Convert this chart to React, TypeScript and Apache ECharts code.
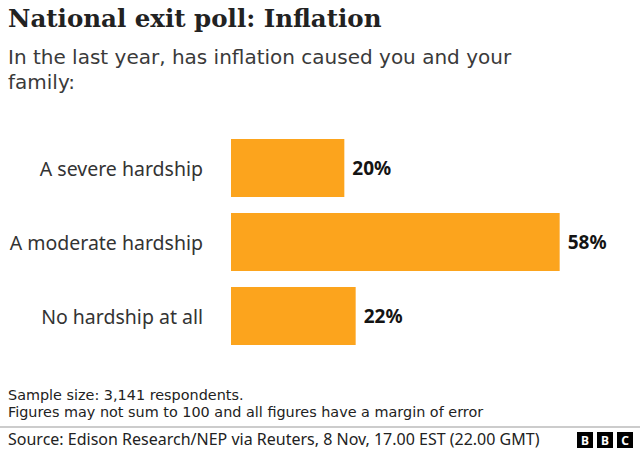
import React, { useEffect, useRef } from "react";
import * as echarts from "echarts";

const categories = ["A severe hardship", "A moderate hardship", "No hardship at all"];
const values = [20, 58, 22];
const title = "National exit poll: Inflation";
const subtitleLines = ["In the last year, has inflation caused you and your", "family:"];
const notes = ["Sample size: 3,141 respondents.", "Figures may not sum to 100 and all figures have a margin of error"];
const source = "Source: Edison Research/NEP via Reuters, 8 Nov, 17.00 EST (22.00 GMT)";

const SANS = "'Noto Sans', sans-serif";
const DJ = "'DejaVu Sans', sans-serif";

export default function App() {
  const ref = useRef<HTMLDivElement>(null);
  useEffect(() => {
    document.body.style.margin = "0";
    const chart = echarts.init(ref.current!, null, { renderer: "svg" });
    const bbcLetters = ["B", "B", "C"];
    chart.setOption({
      animation: false,
      backgroundColor: "#ffffff",
      grid: { left: 231, right: 69, top: 131, height: 222, containLabel: false },
      xAxis: { type: "value", min: 0, max: 60, show: false },
      yAxis: {
        type: "category",
        data: categories,
        inverse: true,
        axisLine: { show: false },
        axisTick: { show: false },
        axisLabel: { color: "#333333", fontSize: 19.5, fontFamily: SANS, margin: 28 },
      },
      series: [
        {
          type: "bar",
          data: values,
          barWidth: 58,
          itemStyle: { color: "#fca41d" },
          label: {
            show: true,
            position: "right",
            distance: 8,
            formatter: "{c}%",
            color: "#141414",
            fontSize: 19,
            fontWeight: "bold",
            fontFamily: SANS,
          },
        },
      ],
      graphic: [
        {
          type: "text",
          left: 8,
          top: 6,
          style: { text: title, fontSize: 24.5, fontWeight: "bold", fontFamily: "'DejaVu Serif', serif", fill: "#222222" },
        },
        ...subtitleLines.map((t, i) => ({
          type: "text",
          left: 8,
          top: 45 + i * 25,
          style: { text: t, fontSize: 20, lineHeight: 24, fontFamily: DJ, fill: "#3a3a3a" },
        })),
        ...notes.map((t, i) => ({
          type: "text",
          left: 8,
          top: 387 + i * 17,
          style: { text: t, fontSize: 14.4, lineHeight: 16.8, fontFamily: DJ, fill: "#222222" },
        })),
        {
          type: "line",
          shape: { x1: 0, y1: 427, x2: 640, y2: 427 },
          style: { stroke: "#999999", lineWidth: 1 },
        },
        {
          type: "text",
          left: 8,
          top: 430,
          style: { text: source, fontSize: 16, lineHeight: 18, fontFamily: SANS, fill: "#222222" },
        },
        ...bbcLetters.flatMap((l, i) => [
          {
            type: "rect",
            shape: { x: 577 + i * 20, y: 432, width: 16, height: 16 },
            style: { fill: "#000000" },
          },
          {
            type: "text",
            x: 585 + i * 20,
            y: 440,
            style: {
              text: l,
              fontSize: 12,
              fontWeight: "bold",
              fontFamily: SANS,
              fill: "#ffffff",
              align: "center",
              verticalAlign: "middle",
            },
          },
        ]),
      ],
    });
    return () => chart.dispose();
  }, []);
  return <div ref={ref} style={{ width: 640, height: 450 }} />;
}
